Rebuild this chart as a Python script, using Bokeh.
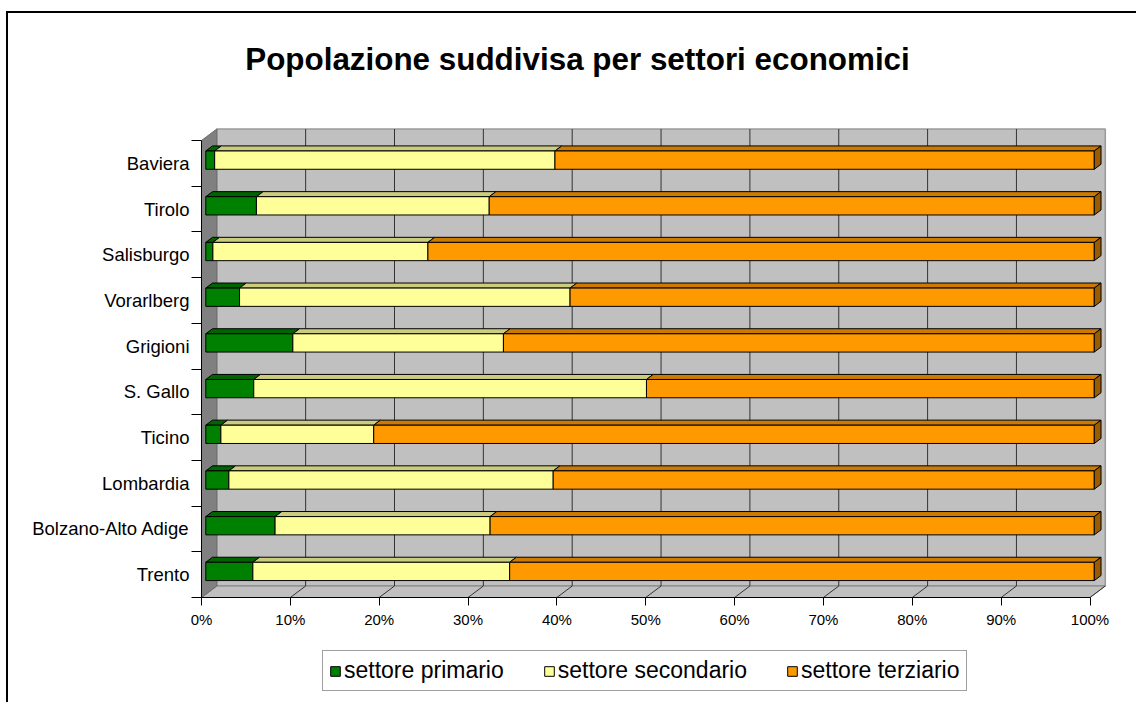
import numpy as np
from bokeh.plotting import figure
from bokeh.layouts import column
from bokeh.models import (FixedTicker, CustomJSTickFormatter, Legend, LegendItem, Range1d)
from bokeh.core.properties import value
from bokeh.embed import file_html
from bokeh.resources import INLINE

# ---------------- data ----------------
regions = ["Baviera", "Tirolo", "Salisburgo", "Vorarlberg", "Grigioni",
           "S. Gallo", "Ticino", "Lombardia", "Bolzano-Alto Adige", "Trento"]
primario = [1.0, 5.7, 0.8, 3.8, 9.8, 5.4, 1.7, 2.6, 7.8, 5.3]
secondario = [38.3, 26.2, 24.2, 37.2, 23.7, 44.2, 17.2, 36.5, 24.2, 28.9]
terziario = [60.7, 68.1, 75.0, 59.0, 66.5, 50.4, 81.1, 60.9, 68.0, 65.8]
series_labels = ["settore primario", "settore secondario", "settore terziario"]
x_ticks = [0, 10, 20, 30, 40, 50, 60, 70, 80, 90, 100]
title_text = "Popolazione suddivisa per settori economici"

# ---------------- styling / geometry ----------------
FONT = "Liberation Sans"
front_colors = ["#008000", "#FFFF99", "#FF9900"]
top_colors = ["#006400", "#CCCC7F", "#CC7A00"]
side_color = "#995C00"

PX_X = 8.885          # pixels per percent
PX_Y = 45.7           # pixels per category
DX = 15.3 / PX_X      # depth offset (data units)
DY = 11.5 / PX_Y
D0, D1 = 0.28, 0.72   # bar depth span
BAR_H = 0.4

n = len(regions)
cat_idx = [n - 1 - k for k in range(n)]   # bottom = 0

def P(x, y, d):
    return x + d * DX, y + d * DY

W, H1, H2 = 1128, 627, 62
ML, MT = 193, 0
frame_w = 907
frame_h = 584
MR = W - ML - frame_w
MB = H1 - MT - frame_h

p = figure(width=W, height=H1, output_backend="svg", toolbar_location=None,
           x_range=Range1d(0, frame_w / PX_X), y_range=Range1d(0, frame_h / PX_Y),
           min_border_left=ML, min_border_right=MR, min_border_top=MT,
           min_border_bottom=MB)
p.outline_line_color = None
p.xgrid.visible = False
p.ygrid.visible = False
p.background_fill_color = "white"
p.border_fill_color = "white"

# ---------------- title ----------------
p.text(x=[(577 - 201) / PX_X], y=[(597 - 58.5) / PX_Y], text=[title_text],
       text_align="center", text_baseline="alphabetic",
       text_font=value(FONT), text_font_style="bold",
       text_font_size="31.4px", text_color="black")

# ---------------- walls & floor ----------------
bx0, by0 = P(0, 0, 1)
bx1, by1 = P(100, 10, 1)
p.patch([bx0, bx1, bx1, bx0], [by0, by0, by1, by1], fill_color="#C0C0C0",
        line_color="#9A9A9A", line_width=1.5)
fl = [P(0, 0, 0), P(100, 0, 0), P(100, 0, 1), P(0, 0, 1)]
p.patch([a for a, b in fl], [b for a, b in fl], fill_color="#C0C0C0",
        line_color="#808080", line_width=1)
lw = [P(0, 0, 0), P(0, 10, 0), P(0, 10, 1), P(0, 0, 1)]
p.patch([a for a, b in lw], [b for a, b in lw], fill_color="#808080",
        line_color="#6a6a6a", line_width=1)

# gridlines on back wall and floor
gx = [t for t in x_ticks if 0 < t < 100]
p.segment(x0=[P(t, 0, 1)[0] for t in gx], y0=[P(t, 0, 1)[1] for t in gx],
          x1=[P(t, 10, 1)[0] for t in gx], y1=[P(t, 10, 1)[1] for t in gx],
          line_color="#333333", line_width=1)
fx = [t for t in x_ticks if t > 0]
p.segment(x0=[P(t, 0, 1)[0] for t in fx], y0=[P(t, 0, 1)[1] for t in fx],
          x1=[P(t, 0, 0)[0] for t in fx], y1=[P(t, 0, 0)[1] for t in fx],
          line_color="#333333", line_width=1)

# ---------------- bars ----------------
vals = np.array([primario, secondario, terziario])
starts = np.vstack([np.zeros(n), np.cumsum(vals, axis=0)[:-1]])
ends = np.cumsum(vals, axis=0)

for s in range(3):
    txs, tys, fxs, fys = [], [], [], []
    for k in range(n):
        c = cat_idx[k]
        x0, x1 = starts[s, k], ends[s, k]
        yb, yt = c + 0.5 - BAR_H / 2, c + 0.5 + BAR_H / 2
        pts = [P(x0, yt, D0), P(x1, yt, D0), P(x1, yt, D1), P(x0, yt, D1)]
        txs.append([a for a, b in pts]); tys.append([b for a, b in pts])
        pts = [P(x0, yb, D0), P(x1, yb, D0), P(x1, yt, D0), P(x0, yt, D0)]
        fxs.append([a for a, b in pts]); fys.append([b for a, b in pts])
    p.patches(txs, tys, fill_color=top_colors[s], line_color="black", line_width=1)
    p.patches(fxs, fys, fill_color=front_colors[s], line_color="black", line_width=1)

sxs, sys_ = [], []
for k in range(n):
    c = cat_idx[k]
    x1 = ends[2, k]
    yb, yt = c + 0.5 - BAR_H / 2, c + 0.5 + BAR_H / 2
    pts = [P(x1, yb, D0), P(x1, yb, D1), P(x1, yt, D1), P(x1, yt, D0)]
    sxs.append([a for a, b in pts]); sys_.append([b for a, b in pts])
p.patches(sxs, sys_, fill_color=side_color, line_color="black", line_width=1)

# ---------------- axes ----------------
xa = p.xaxis[0]
xa.ticker = FixedTicker(ticks=x_ticks, minor_ticks=[])
xa.formatter = CustomJSTickFormatter(code="return Math.round(tick) + '%';")
xa.bounds = (0, 100)
xa.axis_line_color = "black"
xa.major_tick_line_color = "black"
xa.major_tick_out = 8
xa.major_tick_in = 0
xa.minor_tick_out = 0
xa.major_label_standoff = 5
xa.major_label_text_font = FONT
xa.major_label_text_font_size = "15px"
xa.major_label_text_color = "black"

ya = p.yaxis[0]
ya.ticker = FixedTicker(ticks=[i + 0.5 for i in range(n)],
                        minor_ticks=[float(i) for i in range(n + 1)])
ya.formatter = CustomJSTickFormatter(args=dict(labels=regions[::-1]), code="""
const i = Math.round(tick - 0.5);
return (i >= 0 && i < labels.length) ? labels[i] : '';
""")
ya.bounds = (0, 10)
ya.axis_line_color = "black"
ya.major_tick_out = 0
ya.major_tick_in = 0
ya.minor_tick_out = 10
ya.minor_tick_in = 0
ya.minor_tick_line_color = "black"
ya.major_label_standoff = 2
ya.major_label_text_font = FONT
ya.major_label_text_font_size = "18.5px"
ya.major_label_text_color = "black"

# ---------------- legend (separate strip below the plot) ----------------
pl = figure(width=W, height=H2, output_backend="svg", toolbar_location=None,
            x_range=Range1d(0, 1), y_range=Range1d(0, 1),
            x_axis_type=None, y_axis_type=None,
            min_border_left=0, min_border_right=0, min_border_top=0,
            min_border_bottom=0)
pl.outline_line_color = None
pl.background_fill_color = "white"
pl.border_fill_color = "white"
leg_renderers = [pl.patches(xs=[[]], ys=[[]], fill_color=front_colors[s],
                            line_color="black", line_width=1) for s in range(3)]
legend = Legend(items=[LegendItem(label=series_labels[s], renderers=[leg_renderers[s]])
                       for s in range(3)],
                location=(121, 11), orientation="horizontal",
                glyph_width=12, glyph_height=12, label_standoff=3, spacing=39,
                padding=6, margin=0, label_height=20,
                label_text_font=FONT, label_text_font_size="23px",
                label_text_color="black", border_line_color="#404040",
                border_line_width=1, background_fill_color="white",
                background_fill_alpha=1)
pl.add_layout(legend, "center")

layout = column(p, pl, spacing=0,
                styles={"border-top": "2px solid black", "border-left": "2px solid black",
                        "margin-top": "11px", "margin-left": "6px"})

open("out.html", "w").write(file_html(layout, INLINE))
